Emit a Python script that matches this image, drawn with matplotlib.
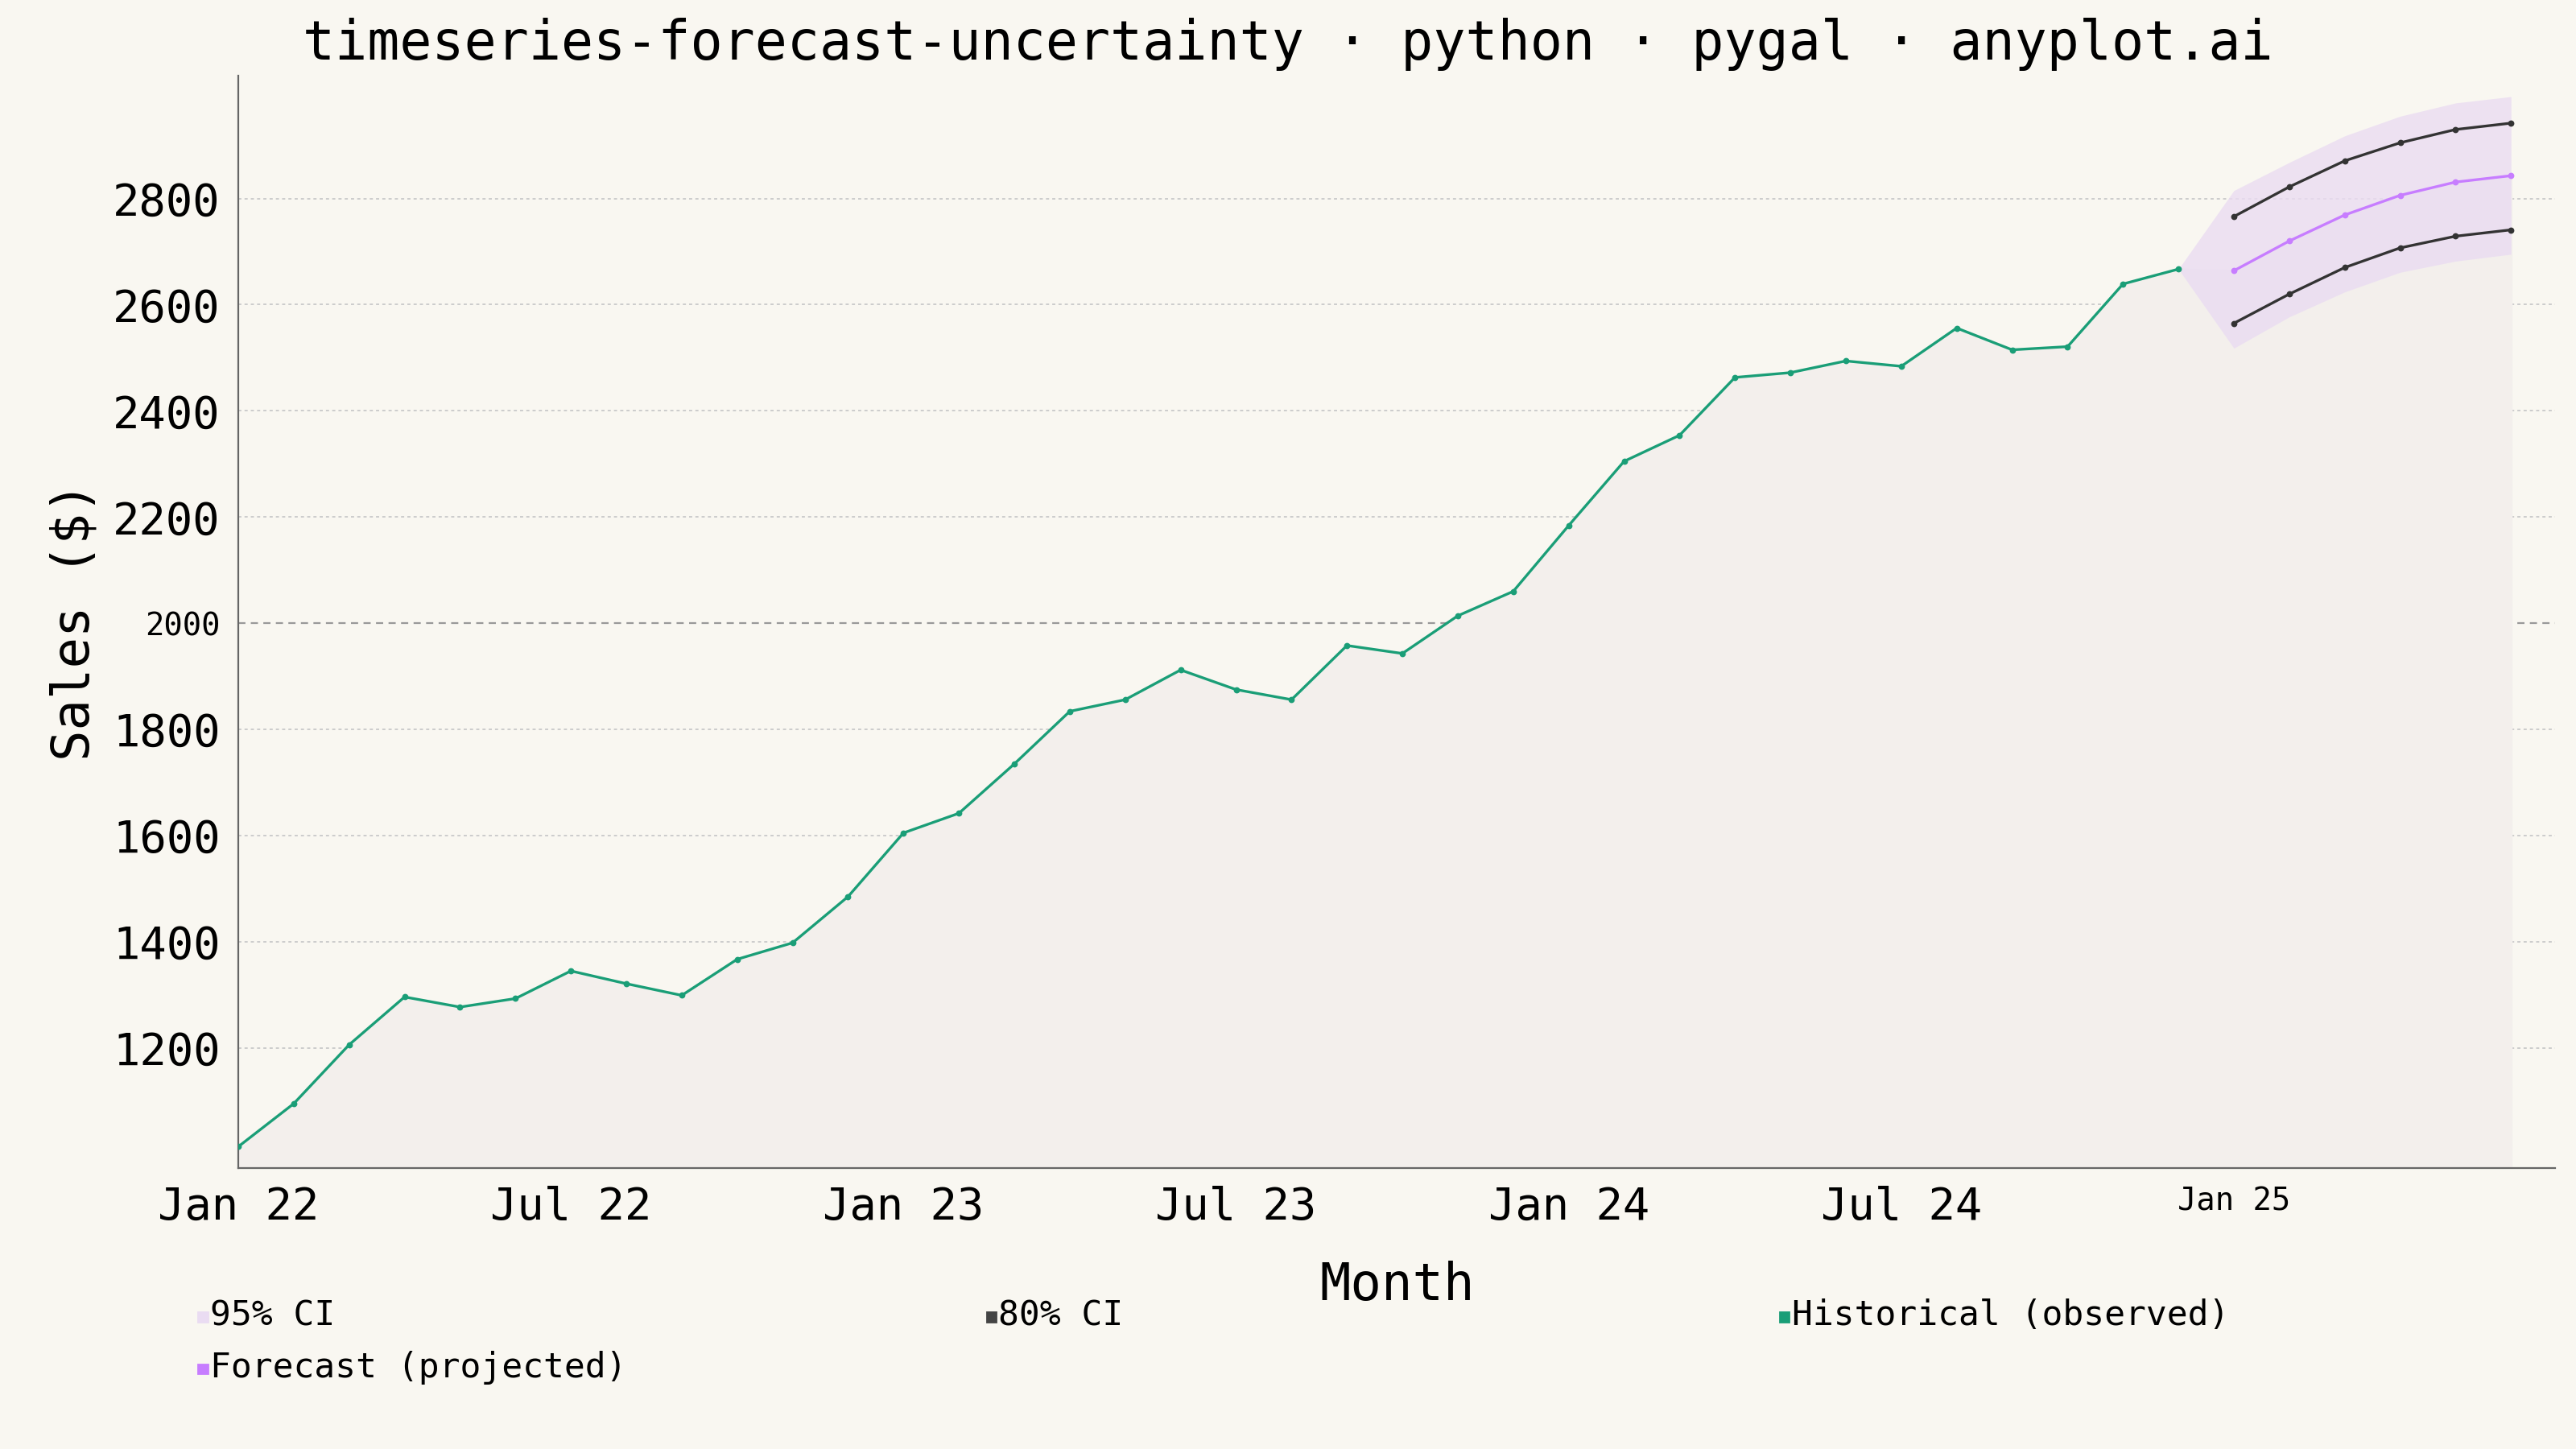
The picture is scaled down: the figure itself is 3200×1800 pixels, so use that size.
import numpy as np
import matplotlib.pyplot as plt

# ---------- DATA ----------
hist_vals = [1014, 1095, 1206, 1296, 1277, 1293, 1345, 1321, 1299, 1367, 1398, 1485,
             1605, 1642, 1735, 1834, 1856, 1912, 1875, 1856, 1958, 1943, 2014, 2060,
             2184, 2305, 2354, 2463, 2472, 2494, 2484, 2556, 2515, 2521, 2639, 2667]
fc_vals = [2664, 2720, 2769, 2806, 2831, 2843]
up80 = [2766, 2822, 2871, 2905, 2930, 2942]
lo80 = [2565, 2620, 2670, 2707, 2729, 2741]
up95 = [2815, 2868, 2918, 2955, 2980, 2992]
lo95 = [2518, 2577, 2624, 2661, 2682, 2695]
tick_labels = ["Jan 22", "Jul 22", "Jan 23", "Jul 23", "Jan 24", "Jul 24", "Jan 25"]
yticks = [1200, 1400, 1600, 1800, 2000, 2200, 2400, 2600, 2800]

bg = "#f9f7f1"
green = "#1a9e77"
purple = "#c77dff"
band = "#eadcf2"

plt.rcParams['font.family'] = ['DejaVu Sans Mono']
fig = plt.figure(figsize=(16, 9), dpi=200, facecolor=bg)
ax = fig.add_axes([0.0925, 0.194, 0.8995, 0.754], facecolor=bg)

xh = np.arange(len(hist_vals))
xf = np.arange(len(hist_vals), len(hist_vals) + len(fc_vals))
last = hist_vals[-1]

# light area under whole series
xall = np.concatenate([xh, xf])
yall = np.concatenate([hist_vals, fc_vals])
ax.fill_between(xall, 900, yall, color="#f3efec", zorder=1)

# 95% band starts at the last observed point
xb = np.concatenate([[xh[-1]], xf])
ax.fill_between(xb, [last] + lo95, [last] + up95, color=band, alpha=0.8, lw=0, zorder=2)

ax.plot(xh, hist_vals, color=green, lw=1.2, marker="o", ms=1.8, zorder=4)
ax.plot(xf, fc_vals, color=purple, lw=1.2, marker="o", ms=1.8, zorder=4)
ax.plot(xf, up80, color="#333333", lw=1.2, marker="o", ms=1.8, zorder=4)
ax.plot(xf, lo80, color="#333333", lw=1.2, marker="o", ms=1.8, zorder=4)

ax.set_xlim(0, 41.8)
ax.set_ylim(974, 3032)
ax.set_xticks(np.arange(0, 37, 6))
ax.set_xticklabels(tick_labels, fontsize=20)
ax.get_xticklabels()[-1].set_fontsize(14)
ax.set_yticks(yticks)
ax.set_yticklabels([str(v) for v in yticks], fontsize=20)
ax.get_yticklabels()[4].set_fontsize(14)
ax.tick_params(length=0, pad=8)
for y in yticks:
    if y == 2000:
        ax.axhline(y, color="#999999", lw=0.8, ls=(0, (4, 3)), zorder=0)
    else:
        ax.axhline(y, color="#cccccc", lw=0.7, ls=(0, (2, 2)), zorder=0)
for s in ["top", "right"]:
    ax.spines[s].set_visible(False)
ax.spines["left"].set_color("#666666")
ax.spines["bottom"].set_color("#666666")
ax.spines["left"].set_linewidth(0.8)
ax.spines["bottom"].set_linewidth(0.8)

ax.set_xlabel("Month", fontsize=23, labelpad=14)
ax.set_ylabel("Sales ($)", fontsize=23, labelpad=6)
fig.suptitle("timeseries-forecast-uncertainty · python · pygal · anyplot.ai",
             fontsize=24, y=0.988)

# legend, placed by hand like pygal does
leg_items = [("95% CI", band, 0.077, 0.092),
             ("80% CI", "#444444", 0.383, 0.092),
             ("Historical (observed)", green, 0.691, 0.092),
             ("Forecast (projected)", purple, 0.077, 0.056)]
for lab, col, lx, ly in leg_items:
    fig.patches.append(plt.Rectangle((lx, ly - 0.004), 0.0035, 0.0065, color=col,
                                     transform=fig.transFigure, figure=fig))
    fig.text(lx + 0.0045, ly, lab, fontsize=15.5, va="center", ha="left")

plt.savefig("out.png", dpi=200, facecolor=bg)
